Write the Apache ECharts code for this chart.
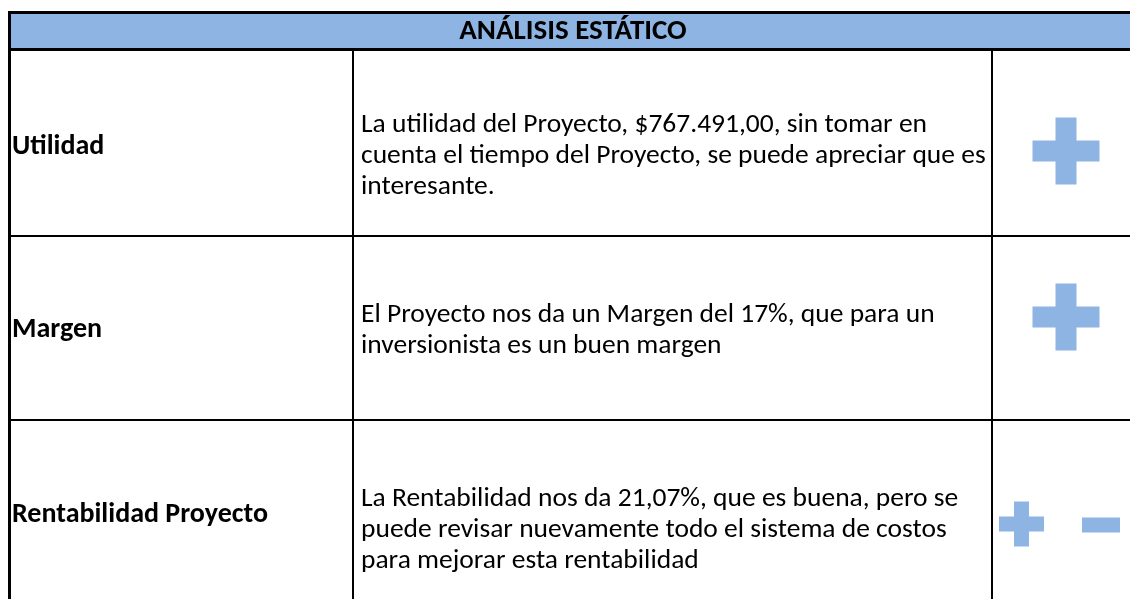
<!DOCTYPE html>
<html>
<head>
<meta charset="utf-8">
<script src="https://cdn.jsdelivr.net/npm/echarts@6/dist/echarts.min.js"></script>
<style>
  html, body { margin: 0; padding: 0; background: #fff; }
  #main { width: 1130px; height: 599px; }
</style>
</head>
<body>
<div id="main"></div>
<script>
// datos de la tabla
var titulo = 'ANÁLISIS ESTÁTICO';
var conceptos = ['Utilidad', 'Margen', 'Rentabilidad Proyecto'];
var comentarios = [
  ['La utilidad del Proyecto, $767.491,00, sin tomar en',
   'cuenta el tiempo del Proyecto, se puede apreciar que es',
   'interesante.'],
  ['El Proyecto nos da un Margen del 17%, que para un',
   'inversionista es un buen margen'],
  ['La Rentabilidad nos da 21,07%, que es buena, pero se',
   'puede revisar nuevamente todo el sistema de costos',
   'para mejorar esta rentabilidad']
];
var valoracion = [['+'], ['+'], ['+', '-']];

// disposicion (pixeles)
var fuente = 'Carlito, Calibri, Lato, sans-serif';
var azul = '#8DB4E2';
var colX = [9.5, 353, 992, 1145];
var filaY = [12.5, 49.5, 236, 420, 650];
var etiquetaY = [147, 330, 515];
var linea1Y = [125, 315, 499];
var altoLinea = 31;
// posicion de cada icono: [x centro, y centro, ancho, grosor]
var iconoPos = [
  [[1066, 151, 67, 21]],
  [[1066, 317, 67, 21]],
  [[1021.5, 524, 45, 15], [1101, 525, 38, 15]]
];

var g = [];

// encabezado
g.push({ type: 'rect', shape: { x: 11, y: 14, width: 1130, height: 34 }, style: { fill: azul } });
g.push({ type: 'text', x: 573, y: 32, style: {
  text: titulo, font: 'bold 29px ' + fuente, fill: '#000', align: 'center', verticalAlign: 'middle' } });

conceptos.forEach(function (c, i) {
  g.push({ type: 'text', x: 12, y: etiquetaY[i], style: {
    text: c, font: 'bold 28px ' + fuente, fill: '#000', verticalAlign: 'middle' } });
  comentarios[i].forEach(function (t, j) {
    g.push({ type: 'text', x: 361, y: linea1Y[i] + j * altoLinea, style: {
      text: t, font: '27.5px ' + fuente, fill: '#000', verticalAlign: 'middle' } });
  });
  valoracion[i].forEach(function (s, k) {
    var p = iconoPos[i][k];
    var w = p[2], th = p[3];
    g.push({ type: 'rect', shape: { x: p[0] - w / 2, y: p[1] - th / 2, width: w, height: th }, style: { fill: azul } });
    if (s === '+') {
      g.push({ type: 'rect', shape: { x: p[0] - th / 2, y: p[1] - w / 2, width: th, height: w }, style: { fill: azul } });
    }
  });
});

// lineas de la tabla
function linea(x1, y1, x2, y2, w) {
  g.push({ type: 'line', shape: { x1: x1, y1: y1, x2: x2, y2: y2 }, style: { stroke: '#000', lineWidth: w } });
}
linea(colX[0], 11, colX[0], 650, 3);
linea(8, filaY[0], 1140, filaY[0], 3);
linea(8, filaY[1], 1140, filaY[1], 3);
linea(colX[1], filaY[1], colX[1], 650, 2);
linea(colX[2], filaY[1], colX[2], 650, 2);
linea(8, filaY[2], 1140, filaY[2], 2);
linea(8, filaY[3], 1140, filaY[3], 2);

var chart = echarts.init(document.getElementById('main'));
chart.setOption({
  animation: false,
  backgroundColor: '#fff',
  graphic: g
});
</script>
</body>
</html>
